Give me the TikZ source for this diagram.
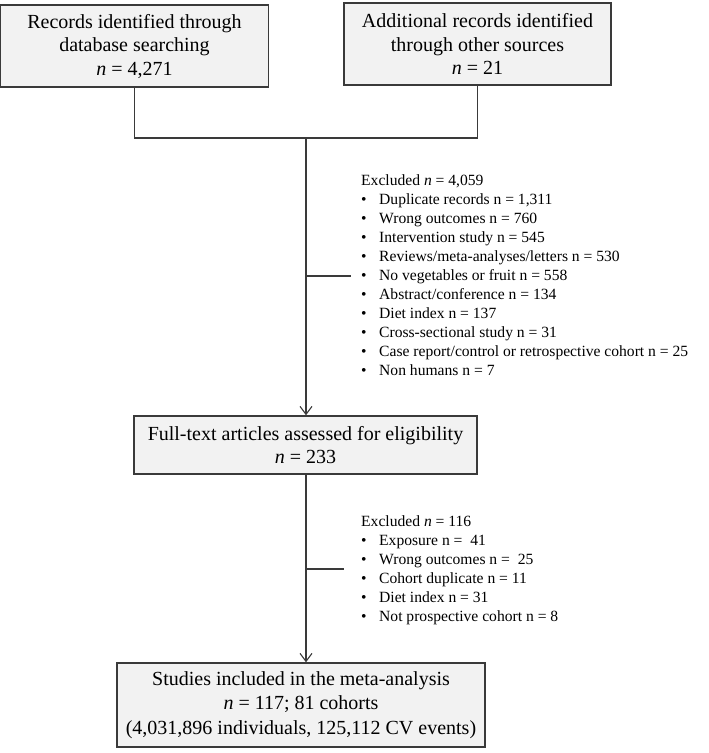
\documentclass[tikz,border=0pt]{standalone}
\usepackage{fontspec}
\setmainfont{Liberation Serif}
\usetikzlibrary{arrows.meta}
\definecolor{boxfill}{HTML}{F2F2F2}
\definecolor{boxdraw}{HTML}{3A3A3A}
\begin{document}
\begin{tikzpicture}[x=1pt,y=-1pt,
  flowbox/.style={draw=boxdraw,fill=boxfill,line width=1.4pt,align=center,inner sep=0pt,
     font=\fontsize{20}{23.5}\selectfont},
  conn/.style={draw=boxdraw,line width=1.1pt},
  arr/.style={conn,-{Straight Barb[length=8pt,width=12pt,line width=1.1pt]}},
  exlist/.style={anchor=north west,align=left,inner sep=0pt,font=\fontsize{15.6}{19}\selectfont}
]
\useasboundingbox (0,0) rectangle (709,753);
\node[flowbox,minimum width=268pt,minimum height=82pt] (db) at (134.5,46)
  {Records identified through\\database searching\\\textit{n} = 4,271};
\node[flowbox,minimum width=267pt,minimum height=82pt] (other) at (477.5,44)
  {Additional records identified\\through other sources\\\textit{n} = 21};
\node[flowbox,minimum width=343pt,minimum height=58pt] (full) at (305.5,445)
  {Full-text articles assessed for eligibility\\\textit{n} = 233};
\node[flowbox,minimum width=368pt,minimum height=84pt,font=\fontsize{20}{24.5}\selectfont] (incl) at (301,705)
  {Studies included in the meta-analysis\\\textit{n} = 117; 81 cohorts\\(4,031,896 individuals, 125,112 CV events)};

\coordinate (jl) at (db.south |- 0,138);
\coordinate (jr) at (other.south |- 0,138);
\coordinate (jm) at (306,138);
\draw[conn] (db.south) -- (jl) -- (jr) -- (other.south);
\draw[arr] (jm) -- (jm |- full.north);
\coordinate (f1) at (306,474);
\draw[arr] (f1) -- (f1 |- incl.north);

\coordinate (s1a) at (306,276);
\coordinate (s1b) at (351,276);
\draw[conn] (s1a) -- (s1b);
\coordinate (s2a) at (306,569);
\coordinate (s2b) at (344,569);
\draw[conn] (s2a) -- (s2b);

\newcommand{\bul}{\makebox[18pt][l]{\textbullet}}
\node[exlist] (ex1) at (361,174) {Excluded \textit{n} = 4,059\\
\bul Duplicate records n = 1,311\\
\bul Wrong outcomes n = 760\\
\bul Intervention study n = 545\\
\bul Reviews/meta-analyses/letters n = 530\\
\bul No vegetables or fruit n = 558\\
\bul Abstract/conference n = 134\\
\bul Diet index n = 137\\
\bul Cross-sectional study n = 31\\
\bul Case report/control or retrospective cohort n = 25\\
\bul Non humans n = 7};
\node[exlist] (ex2) at (361,515) {Excluded \textit{n} = 116\\
\bul Exposure n = ~41\\
\bul Wrong outcomes n = ~25\\
\bul Cohort duplicate n = 11\\
\bul Diet index n = 31\\
\bul Not prospective cohort n = 8};
\end{tikzpicture}
\end{document}
